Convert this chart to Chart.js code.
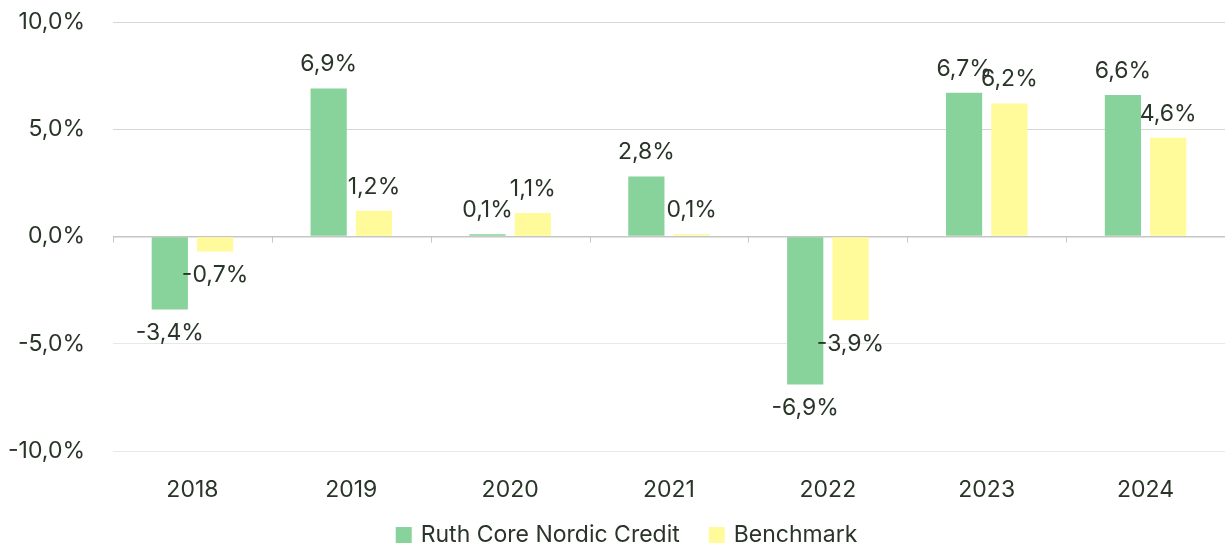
<!DOCTYPE html>
<html>
<head>
<meta charset="utf-8">
<script src="https://cdn.jsdelivr.net/npm/chart.js@4/dist/chart.umd.min.js"></script>
<style>
  html, body { margin: 0; padding: 0; background: #fff; }
  #wrap { width: 1225px; height: 546px; }
</style>
</head>
<body>
<div id="wrap"><canvas id="chart"></canvas></div>
<script>
// data
const years = ["2018", "2019", "2020", "2021", "2022", "2023", "2024"];
const fundValues = [-3.4, 6.9, 0.1, 2.8, -6.9, 6.7, 6.6];
const benchValues = [-0.7, 1.2, 1.1, 0.1, -3.9, 6.2, 4.6];
const seriesNames = ["Ruth Core Nordic Credit", "Benchmark"];

const textColor = "#283528";
const fontFamily = "Inter, 'Noto Sans', sans-serif";
const fontSize = 23;

const fmt = (v) => v.toFixed(1).replace(".", ",") + "%";

// value labels at bar ends + little ticks on the zero line
const valueLabels = {
  id: "valueLabels",
  afterDatasetsDraw(chart) {
    const ctx = chart.ctx;
    const x = chart.scales.x;
    const y = chart.scales.y;
    const y0 = y.getPixelForValue(0);

    ctx.save();
    ctx.strokeStyle = "#c6c6c6";
    ctx.lineWidth = 1;
    for (let i = 0; i <= years.length; i++) {
      const px = Math.round(x.getPixelForValue(i - 0.5)) + 0.5;
      ctx.beginPath();
      ctx.moveTo(px, y0);
      ctx.lineTo(px, y0 + 6);
      ctx.stroke();
    }

    ctx.font = fontSize + "px " + fontFamily;
    ctx.fillStyle = textColor;
    ctx.textAlign = "center";
    ctx.textBaseline = "middle";
    chart.data.datasets.forEach((ds, di) => {
      chart.getDatasetMeta(di).data.forEach((bar, i) => {
        const v = ds.data[i];
        const ly = v >= 0 ? bar.y - 24 : bar.y + 24;
        ctx.fillText(fmt(v), bar.x, ly);
      });
    });
    ctx.restore();
  },
};

// legend drawn by hand so spacing matches
const bottomLegend = {
  id: "bottomLegend",
  afterDraw(chart) {
    const ctx = chart.ctx;
    const box = 16, gapText = 9, gapItem = 29;
    const cy = 535;
    ctx.save();
    ctx.font = fontSize + "px " + fontFamily;
    const items = chart.data.datasets.map((ds) => ({
      text: ds.label,
      color: ds.backgroundColor,
      w: ctx.measureText(ds.label).width,
    }));
    let total = 0;
    items.forEach((it, i) => {
      total += box + gapText + it.w + (i > 0 ? gapItem : 0);
    });
    let x = 626.5 - total / 2;
    ctx.textBaseline = "middle";
    ctx.textAlign = "left";
    items.forEach((it) => {
      ctx.fillStyle = it.color;
      ctx.fillRect(x, cy - box / 2, box, box);
      ctx.fillStyle = textColor;
      ctx.fillText(it.text, x + box + gapText, cy);
      x += box + gapText + it.w + gapItem;
    });
    ctx.restore();
  },
};

new Chart(document.getElementById("chart"), {
  type: "bar",
  data: {
    labels: years,
    datasets: [
      {
        label: seriesNames[0],
        data: fundValues,
        backgroundColor: "#88d39b",
        categoryPercentage: 0.57,
        barPercentage: 0.8,
      },
      {
        label: seriesNames[1],
        data: benchValues,
        backgroundColor: "#fffa9a",
        categoryPercentage: 0.57,
        barPercentage: 0.8,
      },
    ],
  },
  options: {
    responsive: true,
    maintainAspectRatio: false,
    animation: false,
    layout: { padding: { top: 22, right: 0, bottom: 43, left: 0 } },
    plugins: {
      tooltip: { enabled: false },
      legend: { display: false },
    },
    scales: {
      x: {
        grid: { display: false },
        border: { display: false },
        ticks: {
          color: textColor,
          font: { family: fontFamily, size: fontSize },
          padding: 17,
        },
        afterFit: (s) => { s.height = 52; s.paddingLeft = 0; s.paddingRight = 0; },
      },
      y: {
        min: -10,
        max: 10,
        border: { display: false },
        grid: {
          drawTicks: false,
          color: (c) => c.tick.value === 0 ? "#c6c6c6" : (c.tick.value > 0 ? "#d6d6d6" : "#e8e8e8"),
          lineWidth: (c) => c.tick.value === 0 ? 1.5 : 1,
        },
        ticks: {
          stepSize: 5,
          color: textColor,
          font: { family: fontFamily, size: fontSize },
          padding: 28,
          callback: (v) => fmt(v),
        },
        afterFit: (s) => { s.width = 113; s.paddingTop = 0; s.paddingBottom = 0; },
      },
    },
  },
  plugins: [valueLabels, bottomLegend],
});
</script>
</body>
</html>
